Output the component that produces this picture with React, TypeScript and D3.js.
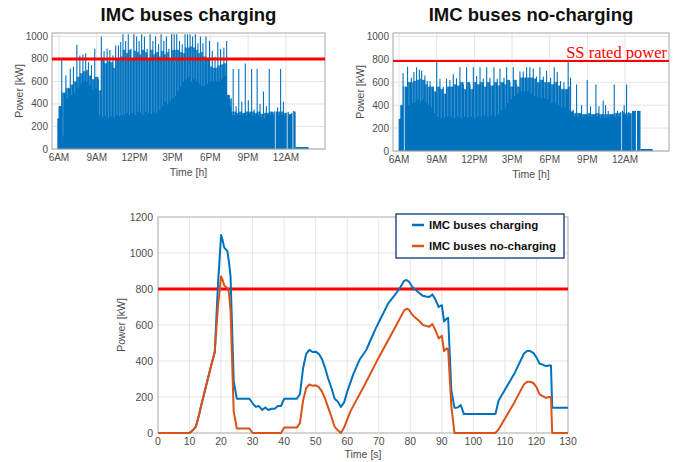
import React from 'react';
import * as d3 from 'd3';

const W = 689;
const H = 462;
const FONT = 'Liberation Sans, Arial, Helvetica, sans-serif';
const BLUE = '#0072BD';
const ORANGE = '#D95319';

// ---------- top panels data ----------
const hourTicks = [6, 9, 12, 15, 18, 21, 24];
const hourTickLabels = ['6AM', '9AM', '12PM', '3PM', '6PM', '9PM', '12AM'];
const powerTicksTop = [0, 200, 400, 600, 800, 1000];

// [hour, spike peak kW, dip kW after spike, level kW until next spike]
const chargingCycles: [number, number, number, number][] = [
  [5.92, 270, 270, 270], [6.02, 380, 380, 380], [6.22, 790, 120, 500], [6.55, 655, 450, 540],
  [6.9, 715, 480, 570], [7.15, 730, 500, 600], [7.42, 925, 540, 640], [7.66, 830, 580, 670],
  [7.9, 840, 600, 690], [8.12, 850, 600, 700], [8.34, 770, 560, 650], [8.58, 745, 530, 620],
  [8.84, 890, 540, 640], [9.12, 620, 300, 520], [9.36, 1000, 280, 800], [9.58, 870, 300, 760],
  [9.82, 890, 280, 780], [10.04, 880, 290, 770], [10.28, 830, 280, 720], [10.5, 920, 300, 790],
  [10.72, 920, 290, 800], [10.9, 950, 300, 820], [11.08, 1020, 300, 880], [11.29, 960, 320, 850],
  [11.5, 1020, 300, 880], [11.71, 890, 320, 790], [11.94, 1020, 300, 870], [12.16, 1000, 330, 860],
  [12.36, 960, 320, 840], [12.56, 1020, 300, 880], [12.78, 1000, 330, 860], [13.0, 890, 320, 790],
  [13.23, 1020, 310, 880], [13.45, 960, 330, 840], [13.66, 1000, 320, 860], [13.9, 930, 350, 820],
  [14.1, 1020, 380, 870], [14.32, 960, 420, 840], [14.52, 1000, 400, 860], [14.72, 890, 430, 790],
  [14.93, 1020, 450, 880], [15.14, 1020, 470, 880], [15.34, 1020, 520, 880], [15.56, 960, 560, 860],
  [15.78, 930, 600, 850], [16.0, 1020, 620, 900], [16.2, 1020, 640, 900], [16.4, 1020, 600, 910],
  [16.6, 1000, 620, 900], [16.82, 1020, 600, 880], [17.02, 940, 580, 850], [17.22, 1000, 560, 860],
  [17.42, 940, 560, 820], [17.66, 1000, 580, 800], [17.94, 960, 600, 730], [18.16, 870, 600, 720],
  [18.38, 820, 600, 720], [18.6, 950, 600, 740], [18.82, 890, 620, 750], [19.08, 900, 650, 760],
  [19.3, 960, 480, 480], [19.5, 480, 380, 440], [19.66, 450, 300, 330], [19.82, 710, 300, 330],
  [20.05, 380, 300, 320], [20.26, 710, 300, 330], [20.5, 420, 300, 320], [20.78, 760, 300, 330],
  [21.02, 430, 310, 330], [21.28, 710, 300, 330], [21.48, 350, 300, 320], [21.72, 710, 300, 330],
  [21.95, 400, 280, 310], [22.22, 510, 270, 320], [22.45, 380, 300, 320], [22.68, 710, 300, 330],
  [22.92, 330, 300, 320], [23.06, 330, 0, 330], [23.34, 370, 300, 330], [23.58, 710, 300, 330],
  [23.8, 420, 300, 320], [24.0, 320, 0, 320], [24.18, 330, 300, 310], [24.45, 310, 0, 320],
  [24.62, 340, 320, 330],
];
const chargingEnd = 24.76;
const chargingTail = 25.8;

const noChargingCycles: [number, number, number, number][] = [
  [6.02, 280, 280, 280], [6.15, 400, 400, 400], [6.32, 680, 0, 560], [6.68, 735, 400, 600],
  [6.98, 640, 420, 600], [7.18, 690, 420, 610], [7.4, 730, 450, 620], [7.62, 710, 430, 630],
  [7.8, 700, 450, 620], [8.06, 660, 420, 580], [8.25, 610, 400, 560], [8.47, 610, 380, 560],
  [8.73, 560, 330, 520], [9.0, 780, 300, 560], [9.26, 630, 290, 540], [9.52, 560, 290, 500],
  [9.78, 630, 300, 560], [10.05, 620, 300, 560], [10.32, 670, 290, 580], [10.58, 635, 300, 570],
  [10.85, 730, 290, 600], [11.12, 580, 300, 540], [11.38, 730, 290, 600], [11.65, 580, 300, 540],
  [11.92, 730, 290, 600], [12.18, 655, 300, 580], [12.45, 730, 300, 600], [12.71, 630, 310, 560],
  [12.98, 730, 300, 600], [13.24, 640, 310, 570], [13.56, 730, 300, 600], [13.82, 630, 320, 570],
  [14.04, 720, 350, 600], [14.36, 640, 380, 580], [14.57, 730, 420, 620], [14.83, 600, 450, 560],
  [15.1, 730, 480, 620], [15.36, 580, 500, 560], [15.63, 695, 520, 640], [15.89, 695, 520, 640],
  [16.16, 730, 520, 640], [16.42, 730, 500, 640], [16.69, 720, 480, 630], [16.95, 650, 470, 600],
  [17.22, 730, 460, 620], [17.49, 650, 460, 600], [17.75, 700, 450, 600], [18.07, 640, 420, 580],
  [18.36, 730, 420, 600], [18.6, 690, 400, 570], [18.86, 610, 380, 540], [19.13, 600, 380, 540],
  [19.47, 780, 350, 560], [19.66, 640, 340, 345], [19.87, 360, 300, 330], [20.14, 580, 300, 330],
  [20.54, 400, 300, 320], [20.99, 620, 300, 330], [21.25, 390, 300, 320], [21.68, 580, 300, 330],
  [21.92, 390, 290, 320], [22.26, 440, 290, 320], [22.45, 400, 290, 320], [22.66, 350, 300, 320],
  [23.14, 580, 300, 330], [23.4, 350, 300, 330], [23.62, 330, 0, 340], [23.8, 350, 320, 340],
  [23.93, 400, 320, 330], [24.12, 580, 300, 330], [24.3, 340, 320, 330], [24.48, 330, 0, 0],
  [24.6, 350, 340, 350], [24.82, 350, 0, 0], [25.0, 350, 350, 350],
];
const noChargingEnd = 25.22;
const noChargingTail = 26.2;

// ---------- bottom panel data ----------
const secTicks = [0, 10, 20, 30, 40, 50, 60, 70, 80, 90, 100, 110, 120, 130];
const powerTicksBottom = [0, 200, 400, 600, 800, 1000, 1200];

const chargingProfile: [number, number][] = [
  [0, 0], [10, 0], [11, 15], [12, 35], [13, 100], [14, 175], [15, 245], [16, 315], [17, 385],
  [18, 450], [19, 820], [20, 1100], [20.5, 1070], [21, 1030], [22, 1010], [22.5, 950], [23, 870],
  [24, 290], [25, 190], [29, 190], [30, 165], [31, 145], [32, 150], [33, 128], [34, 142], [35, 128],
  [36, 135], [37, 135], [38, 150], [39, 150], [40, 190], [44, 190], [45, 215], [46, 360], [47, 440],
  [48, 462], [49, 450], [50, 452], [51, 440], [52, 410], [53, 360], [54, 300], [55, 250], [56, 190],
  [57, 175], [58, 145], [59, 170], [60, 230], [62, 330], [64, 410], [66, 460], [67, 500], [69, 580],
  [71, 650], [73, 720], [75, 765], [76.5, 800], [78, 845], [78.8, 850], [79.6, 840], [80.5, 815],
  [81, 805], [82, 790], [83, 775], [84, 762], [85, 758], [86, 755], [87, 770], [88, 740], [89, 700],
  [90, 710], [90.7, 620], [91.5, 635], [92, 640], [93, 240], [94, 140], [95, 142], [96, 155],
  [97, 105], [107, 105], [108, 180], [110, 240], [113, 330], [116, 440], [117, 455], [118, 455],
  [119, 445], [120, 420], [121, 385], [122, 380], [123, 372], [124, 375], [124.6, 375], [125, 140],
  [130, 140],
];

const noChargingProfile: [number, number][] = [
  [0, 0], [10, 0], [11, 15], [12, 35], [13, 100], [14, 175], [15, 245], [16, 315], [17, 385],
  [18, 450], [19, 700], [20, 870], [20.5, 850], [21, 820], [22, 805], [22.5, 780], [23, 680],
  [24, 120], [25, 25], [29, 25], [30, 0], [39, 0], [40, 30], [44, 30], [45, 55], [46, 180],
  [47, 250], [48, 270], [49, 262], [50, 265], [51, 255], [52, 230], [53, 190], [54, 140], [55, 90],
  [56, 35], [57, 15], [58, 0], [59, 30], [61, 120], [65, 250], [70, 420], [75, 580], [78, 680],
  [78.8, 690], [79.6, 685], [80.5, 660], [81, 650], [82, 635], [83, 620], [84, 600], [85, 595], [86, 590], [87, 605],
  [88, 570], [89, 525], [90, 540], [90.7, 455], [91.5, 470], [92, 465], [93, 150], [94, 0],
  [107, 0], [108, 20], [110, 80], [113, 170], [116, 270], [117, 285], [118, 285], [119, 278],
  [120, 255], [121, 215], [122, 205], [123, 195], [124, 200], [124.6, 200], [125, 0], [130, 0],
];

const ratedPowerTopLeft = 800;
const ratedPowerTopRight = 785;
const ratedPowerBottom = 800;

type Cycle = [number, number, number, number];

function TopPanel(props: {
  x0: number; x1: number; y0: number; y1: number; xDomain: [number, number];
  cycles: Cycle[]; end: number; tail: number; limit: number; limitWidth: number;
  title: string; label?: string;
}) {
  const { x0, x1, y0, y1, xDomain, cycles, end, tail, limit, title, label, limitWidth } = props;
  const xs = d3.scaleLinear().domain(xDomain).range([x0, x1]);
  const ys = d3.scaleLinear().domain([0, 1030]).range([y1, y0]);
  const pts: [number, number][] = [[cycles[0][0], 0]];
  let prev = 0;
  cycles.forEach((c, i) => {
    const t = c[0];
    const l = c[3];
    const tn = i < cycles.length - 1 ? cycles[i + 1][0] : end;
    pts.push([t, prev], [t, l], [tn, l]);
    prev = l;
  });
  pts.push([end, 0]);
  const area = d3.area<[number, number]>()
    .x((d) => xs(d[0]))
    .y0(() => ys(0))
    .y1((d) => ys(d[1]));
  const bodyPath = area(pts) || '';
  const cx = (x0 + x1) / 2;
  return (
    <g>
      <rect x={x0} y={y0} width={x1 - x0} height={y1 - y0} fill="#fff" />
      {hourTicks.map((h) => (
        <line key={'gx' + h} x1={xs(h)} x2={xs(h)} y1={y0} y2={y1} stroke="#e4e4e4" strokeWidth={1} />
      ))}
      {powerTicksTop.map((v) => (
        <line key={'gy' + v} x1={x0} x2={x1} y1={ys(v)} y2={ys(v)} stroke="#e4e4e4" strokeWidth={1} />
      ))}
      <path d={bodyPath} fill={BLUE} stroke={BLUE} strokeWidth={0.3} />
      {cycles.map((c, i) => (
        <line key={'sp' + i} x1={xs(c[0])} x2={xs(c[0])} y1={ys(0)} y2={ys(c[1])} stroke={BLUE} strokeWidth={1.1} />
      ))}
      {cycles.map((c, i) => (
        c[2] < c[3] ? (
          <line key={'dp' + i} x1={xs(c[0]) + 1.3} x2={xs(c[0]) + 1.3} y1={ys(c[2])} y2={ys(c[3])}
            stroke="#ffffff" strokeOpacity={c[2] === 0 ? 0.9 : 0.3} strokeWidth={0.8} />
        ) : null
      ))}
      <line x1={xs(end)} x2={xs(tail)} y1={ys(0) - 1} y2={ys(0) - 1} stroke={BLUE} strokeWidth={2} />
      <rect x={x0} y={y0} width={x1 - x0} height={y1 - y0} fill="none" stroke="#a6a6a6" strokeWidth={1} />
      <line x1={x0} x2={x1} y1={ys(limit)} y2={ys(limit)} stroke="#ff0000" strokeWidth={limitWidth} />
      {label && (
        <text x={x1 - 2} y={ys(limit) - 3} textAnchor="end" fontFamily="Liberation Serif, Times New Roman, serif"
          fontSize={16.5} fill="#ff0000">{label}</text>
      )}
      {powerTicksTop.map((v) => (
        <text key={'ty' + v} x={x0 - 4} y={ys(v) + 3.5} textAnchor="end" fontFamily={FONT} fontSize={10} fill="#4d4d4d">{v}</text>
      ))}
      {hourTicks.map((h, i) => (
        <text key={'tx' + h} x={xs(h)} y={y1 + 12} textAnchor="middle" fontFamily={FONT} fontSize={10} fill="#4d4d4d">{hourTickLabels[i]}</text>
      ))}
      <text x={cx} y={y1 + 27} textAnchor="middle" fontFamily={FONT} fontSize={10.5} fill="#4d4d4d">Time [h]</text>
      <text transform={`translate(${x0 - 29},${(y0 + y1) / 2}) rotate(-90)`} textAnchor="middle" fontFamily={FONT}
        fontSize={10.5} fill="#4d4d4d">Power [kW]</text>
      <text x={cx} y={21} textAnchor="middle" fontFamily={FONT} fontWeight="bold" fontSize={18.5} fill="#111">{title}</text>
    </g>
  );
}

function BottomPanel() {
  const x0 = 158, x1 = 568, y0 = 217, y1 = 433;
  const xs = d3.scaleLinear().domain([0, 130]).range([x0, x1]);
  const ys = d3.scaleLinear().domain([0, 1200]).range([y1, y0]);
  const line = d3.line<[number, number]>().x((d) => xs(d[0])).y((d) => ys(d[1]));
  return (
    <g>
      <rect x={x0} y={y0} width={x1 - x0} height={y1 - y0} fill="#fff" />
      {secTicks.map((s) => (
        <line key={'bgx' + s} x1={xs(s)} x2={xs(s)} y1={y0} y2={y1} stroke="#e6e6e6" strokeWidth={1} />
      ))}
      {powerTicksBottom.map((v) => (
        <line key={'bgy' + v} x1={x0} x2={x1} y1={ys(v)} y2={ys(v)} stroke="#e6e6e6" strokeWidth={1} />
      ))}
      <rect x={x0} y={y0} width={x1 - x0} height={y1 - y0} fill="none" stroke="#b5b5b5" strokeWidth={1} />
      <line x1={x0} x2={x1} y1={ys(ratedPowerBottom)} y2={ys(ratedPowerBottom)} stroke="#ff0000" strokeWidth={3} />
      <path d={line(chargingProfile) || ''} fill="none" stroke={BLUE} strokeWidth={2} strokeLinejoin="round" />
      <path d={line(noChargingProfile) || ''} fill="none" stroke={ORANGE} strokeWidth={2} strokeLinejoin="round" />
      {powerTicksBottom.map((v) => (
        <text key={'bty' + v} x={x0 - 5} y={ys(v) + 4} textAnchor="end" fontFamily={FONT} fontSize={10.5} fill="#4d4d4d">{v}</text>
      ))}
      {secTicks.map((s) => (
        <text key={'btx' + s} x={xs(s)} y={y1 + 12} textAnchor="middle" fontFamily={FONT} fontSize={10.5} fill="#4d4d4d">{s}</text>
      ))}
      <text x={(x0 + x1) / 2} y={y1 + 25} textAnchor="middle" fontFamily={FONT} fontSize={10.5} fill="#4d4d4d">Time [s]</text>
      <text transform={`translate(${x0 - 33},${(y0 + y1) / 2}) rotate(-90)`} textAnchor="middle" fontFamily={FONT}
        fontSize={10.5} fill="#4d4d4d">Power [kW]</text>
      <g>
        <rect x={396} y={214} width={168} height={44} fill="#fff" stroke="#2b4f8f" strokeWidth={1.5} />
        <line x1={412} x2={424} y1={225} y2={225} stroke={BLUE} strokeWidth={2.5} />
        <text x={429} y={229} fontFamily={FONT} fontWeight="bold" fontSize={11.5} fill="#111">IMC buses charging</text>
        <line x1={412} x2={424} y1={246} y2={246} stroke={ORANGE} strokeWidth={2.5} />
        <text x={429} y={250} fontFamily={FONT} fontWeight="bold" fontSize={11.5} fill="#111">IMC buses no-charging</text>
      </g>
    </g>
  );
}

export default function App() {
  return (
    <svg width={W} height={H} viewBox={`0 0 ${W} ${H}`}
      style={{ position: 'absolute', left: 0, top: 0, background: '#fff' }}>
      <rect x={0} y={0} width={W} height={H} fill="#fff" />
      <TopPanel x0={52} x1={325} y0={33} y1={149} xDomain={[5.45, 27.1]} cycles={chargingCycles}
        end={chargingEnd} tail={chargingTail} limit={ratedPowerTopLeft} limitWidth={3} title="IMC buses charging" />
      <TopPanel x0={393} x1={669} y0={33} y1={151} xDomain={[5.52, 27.5]} cycles={noChargingCycles}
        end={noChargingEnd} tail={noChargingTail} limit={ratedPowerTopRight} limitWidth={2}
        title="IMC buses no-charging" label="SS rated power" />
      <BottomPanel />
    </svg>
  );
}
